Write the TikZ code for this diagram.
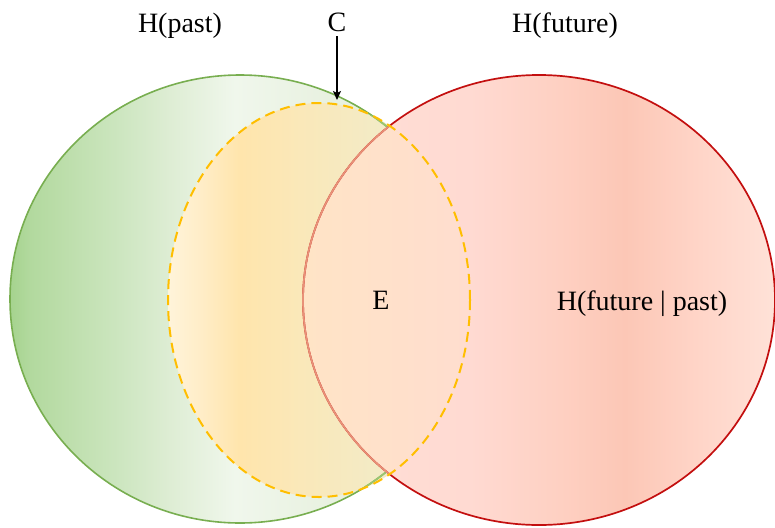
\documentclass[tikz,border=0pt]{standalone}
\usepackage{fontspec}
\setmainfont{Liberation Serif}
\usetikzlibrary{arrows.meta}

\definecolor{g0}{RGB}{165,211,142}
\definecolor{g1}{RGB}{178,217,158}
\definecolor{g2}{RGB}{205,230,192}
\definecolor{g3}{RGB}{222,237,212}
\definecolor{g4}{RGB}{240,247,236}
\definecolor{g5}{RGB}{232,241,224}
\definecolor{g6}{RGB}{228,239,220}

\definecolor{r0}{RGB}{255,224,214}
\definecolor{r1}{RGB}{255,218,210}
\definecolor{r2}{RGB}{254,208,194}
\definecolor{r3}{RGB}{252,199,182}
\definecolor{r4}{RGB}{255,213,200}
\definecolor{r5}{RGB}{255,226,216}

\definecolor{y0}{RGB}{255,244,218}
\definecolor{y1}{RGB}{255,237,200}
\definecolor{y2}{RGB}{255,229,172}
\definecolor{y3}{RGB}{250,232,185}
\definecolor{y4}{RGB}{243,235,198}
\definecolor{y5}{RGB}{240,236,200}

\definecolor{p0}{RGB}{255,228,198}
\definecolor{p1}{RGB}{255,225,202}
\definecolor{p2}{RGB}{255,221,207}

\definecolor{gstroke}{RGB}{120,174,80}
\definecolor{gstrokelight}{RGB}{155,198,112}
\definecolor{rstroke}{RGB}{195,15,15}
\definecolor{rstrokelight}{RGB}{232,145,120}
\definecolor{ystroke}{RGB}{255,190,0}

\pgfdeclarehorizontalshading{greenshade}{100bp}{color(0bp)=(g0); color(25bp)=(g0); color(27.17bp)=(g1); color(36.96bp)=(g2); color(42.39bp)=(g3); color(49.46bp)=(g4); color(59.78bp)=(g5); color(75bp)=(g6); color(100bp)=(g6)}
\pgfdeclarehorizontalshading{redshade}{100bp}{color(0bp)=(r0); color(25bp)=(r0); color(42.69bp)=(r1); color(52.22bp)=(r2); color(59.11bp)=(r3); color(67.06bp)=(r4); color(75bp)=(r5); color(100bp)=(r5)}
\pgfdeclarehorizontalshading{yellowshade}{100bp}{color(0bp)=(y0); color(25bp)=(y0); color(30.30bp)=(y1); color(36.92bp)=(y2); color(46.85bp)=(y3); color(60.10bp)=(y4); color(75bp)=(y5); color(100bp)=(y5)}
\pgfdeclarehorizontalshading{peachshade}{100bp}{color(0bp)=(p0); color(47.35bp)=(p0); color(60.10bp)=(p1); color(75bp)=(p2); color(100bp)=(p2)}

\tikzset{
  lbl/.style={font=\fontsize{28}{32}\selectfont, inner sep=2pt, anchor=base},
  greenline/.style={draw=gstroke, line width=1.6pt},
  greenlinelight/.style={draw=gstrokelight, line width=1.6pt},
  redline/.style={draw=rstroke, line width=1.7pt},
  redlinelight/.style={draw=rstrokelight, line width=1.7pt},
  yellowline/.style={draw=ystroke, line width=2pt, dash pattern=on 10pt off 6pt},
  arr/.style={draw=black, line width=1.4pt, -{Stealth[length=9pt, width=8pt, inset=2pt]}}
}

\begin{document}
\begin{tikzpicture}[x=1pt, y=-1pt]
\path[use as bounding box] (0,0) rectangle (775,527);

\def\greenpath{(240,299) ellipse [x radius=230, y radius=224]}
\def\redpath{(539,300) ellipse [x radius=236, y radius=225]}
\def\yellowpath{(319,300) ellipse [x radius=151, y radius=197]}

% fills
\shade[shading=greenshade] \greenpath;
\shade[shading=redshade] \redpath;
\begin{scope}
  \clip \yellowpath;
  \shade[shading=yellowshade] \yellowpath;
  \clip \redpath;
  \shade[shading=peachshade] \yellowpath;
\end{scope}

% green border (hidden under red)
\begin{scope}[even odd rule]
  \clip (-20,-20) rectangle (800,550) \redpath;
  \draw[greenline] \greenpath;
  \clip \yellowpath;
  \draw[greenlinelight] \greenpath;
\end{scope}

% red border
\draw[redline] \redpath;
\begin{scope}
  \clip \yellowpath;
  \draw[redlinelight] \redpath;
\end{scope}

% yellow dashed border
\draw[yellowline] \yellowpath;

% labels
\node[lbl] (hpast) at (180,33) {H(past)};
\node[lbl] (C) at (337,32) {C};
\node[lbl] (hfut) at (565,33) {H(future)};
\node[lbl] (E) at (381,309) {E};
\node[lbl] (hfp) at (642,310) {H(future | past)};

\coordinate (ctop) at (337,100);
\draw[arr] ([yshift=-2pt]C.south) -- (ctop);
\end{tikzpicture}
\end{document}
